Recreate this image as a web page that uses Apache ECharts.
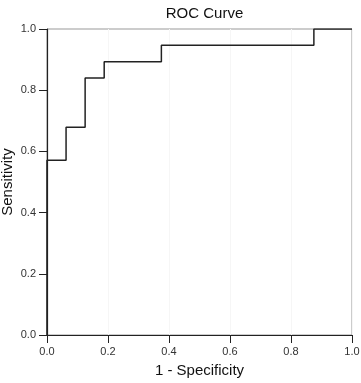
<!DOCTYPE html>
<html><head><meta charset="utf-8">
<script src="https://cdn.jsdelivr.net/npm/echarts@6/dist/echarts.min.js"></script>
<style>html,body{margin:0;padding:0;background:#fff}#c{width:361px;height:383px}</style>
</head><body><div id="c"></div>
<script>
const fpr = [0, 0, 0.0625, 0.125, 0.1875, 0.375, 0.875, 1];
const tpr = [0, 0.571, 0.679, 0.84, 0.893, 0.947, 1, 1];
const xTicks = ['0.0','0.2','0.4','0.6','0.8','1.0'];
const yTicks = ['0.0','0.2','0.4','0.6','0.8','1.0'];
const chart = echarts.init(document.getElementById('c'));
const font = 'Liberation Sans, Arial, sans-serif';
chart.setOption({
  animation: false,
  title: { text: 'ROC Curve', left: 199.5, textAlign: 'center', top: 1,
    textStyle: { fontFamily: font, fontSize: 15, fontWeight: 'normal', color: '#111' } },
  grid: { left: 47, right: 9, top: 29, bottom: 48, containLabel: false, outerBoundsMode: 'none',
    show: true, borderColor: '#999', borderWidth: 1 },
  xAxis: { type: 'value', min: 0, max: 1, interval: 0.2,
    name: '1 - Specificity', nameLocation: 'middle', nameGap: 28, nameMoveOverlap: false,
    nameTextStyle: { fontFamily: font, fontSize: 15, color: '#111' },
    axisLine: { lineStyle: { color: '#222', width: 1.2 } },
    axisTick: { length: 8, lineStyle: { color: '#222' } },
    axisLabel: { fontFamily: font, fontSize: 11, color: '#333', margin: 11,
      formatter: v => xTicks[Math.round(v*5)] },
    splitLine: { show: true, lineStyle: { color: '#f6f6f6' } } },
  yAxis: { type: 'value', min: 0, max: 1, interval: 0.2,
    name: 'Sensitivity', nameLocation: 'middle', nameGap: 32, nameMoveOverlap: false,
    nameTextStyle: { fontFamily: font, fontSize: 15, color: '#111' },
    axisLine: { show: true, lineStyle: { color: '#222', width: 1.2 } },
    axisTick: { show: true, length: 8, lineStyle: { color: '#222' } },
    axisLabel: { fontFamily: font, fontSize: 11, color: '#333', margin: 11,
      formatter: v => yTicks[Math.round(v*5)] },
    splitLine: { show: false } },
  series: [{ type: 'line', step: 'end', symbol: 'none',
    data: fpr.map((x, i) => [x, tpr[i]]),
    lineStyle: { color: '#222', width: 1.5 } }]
});
</script></body></html>
